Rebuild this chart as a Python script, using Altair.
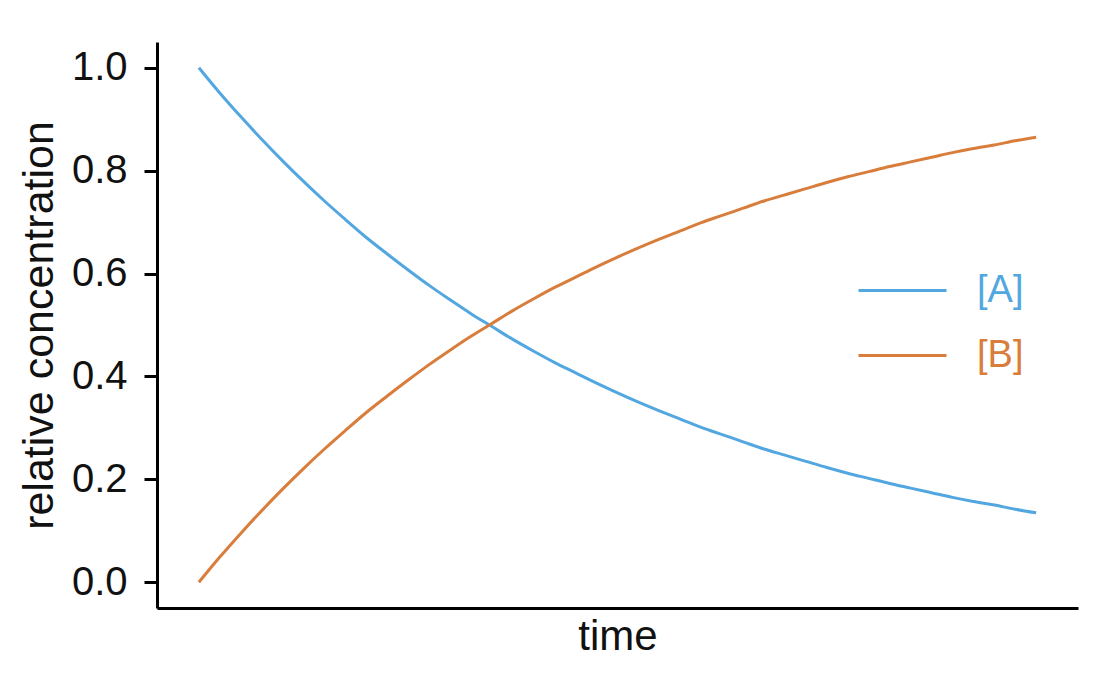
import altair as alt
import pandas as pd

time = [0.00, 0.05, 0.10, 0.15, 0.20, 0.25, 0.30, 0.35, 0.40, 0.45, 0.50,
        0.55, 0.60, 0.65, 0.70, 0.75, 0.80, 0.85, 0.90, 0.95, 1.00,
        1.05, 1.10, 1.15, 1.20, 1.25, 1.30, 1.35, 1.40, 1.45, 1.50,
        1.55, 1.60, 1.65, 1.70, 1.75, 1.80, 1.85, 1.90, 1.95, 2.00]
conc_A = [1.000, 0.951, 0.905, 0.861, 0.819, 0.779, 0.741, 0.705, 0.670, 0.638, 0.607,
          0.577, 0.549, 0.522, 0.497, 0.472, 0.449, 0.427, 0.407, 0.387, 0.368,
          0.350, 0.333, 0.317, 0.301, 0.287, 0.273, 0.259, 0.247, 0.235, 0.223,
          0.212, 0.202, 0.192, 0.183, 0.174, 0.165, 0.157, 0.150, 0.142, 0.135]
conc_B = [0.000, 0.049, 0.095, 0.139, 0.181, 0.221, 0.259, 0.295, 0.330, 0.362, 0.393,
          0.423, 0.451, 0.478, 0.503, 0.528, 0.551, 0.573, 0.593, 0.613, 0.632,
          0.650, 0.667, 0.683, 0.699, 0.713, 0.727, 0.741, 0.753, 0.765, 0.777,
          0.788, 0.798, 0.808, 0.817, 0.826, 0.835, 0.843, 0.850, 0.858, 0.865]
series = ["[A]", "[B]"]
colors = ["#52a7e0", "#d87d3c"]
y_ticks = [0.0, 0.2, 0.4, 0.6, 0.8, 1.0]

df = pd.concat([
    pd.DataFrame({"time": time, "value": conc_A, "species": series[0]}),
    pd.DataFrame({"time": time, "value": conc_B, "species": series[1]}),
])

FONT = "Liberation Sans"
INK = "#000000"
TXT = "#111111"

chart = alt.Chart(df).mark_line(strokeWidth=3, clip=False, interpolate="monotone").encode(
    x=alt.X("time:Q", scale=alt.Scale(domain=[-0.1, 2.1], nice=False, zero=False),
            axis=alt.Axis(title="time", ticks=False, labels=False, grid=False,
                          domainColor=INK, domainWidth=3,
                          titleFont=FONT, titleFontSize=42, titleFontWeight="normal",
                          titleColor=TXT, titlePadding=8)),
    y=alt.Y("value:Q", scale=alt.Scale(domain=[-0.05, 1.05], nice=False, zero=False),
            axis=alt.Axis(title="relative concentration", values=y_ticks,
                          format=".1f", grid=False, tickSize=13, tickWidth=3,
                          tickColor=INK, domainColor=INK, domainWidth=3,
                          labelFont=FONT, labelFontSize=40, labelColor=TXT,
                          labelPadding=17,
                          titleFont=FONT, titleFontSize=43, titleFontWeight="normal",
                          titleColor=TXT, titlePadding=10)),
    color=alt.Color("species:N", scale=alt.Scale(domain=series, range=colors),
                    legend=alt.Legend(title=None, orient="none", legendX=700, legendY=203,
                                      symbolType="stroke", symbolSize=7744,
                                      symbolStrokeWidth=3, labelFont=FONT,
                                      labelFontSize=38, labelOffset=29,
                                      rowPadding=0,
                                      labelColor={"expr": "datum.value == '[A]' ? '#52a7e0' : '#d87d3c'"})),
).properties(
    width=921, height=566,
    autosize=alt.AutoSizeParams(type="none"),
    padding={"left": 149, "top": 34, "right": 20, "bottom": 82},
).configure(background="white").configure_view(stroke=None)

chart.save("out.html", embed_options={"renderer": "svg", "actions": False})
